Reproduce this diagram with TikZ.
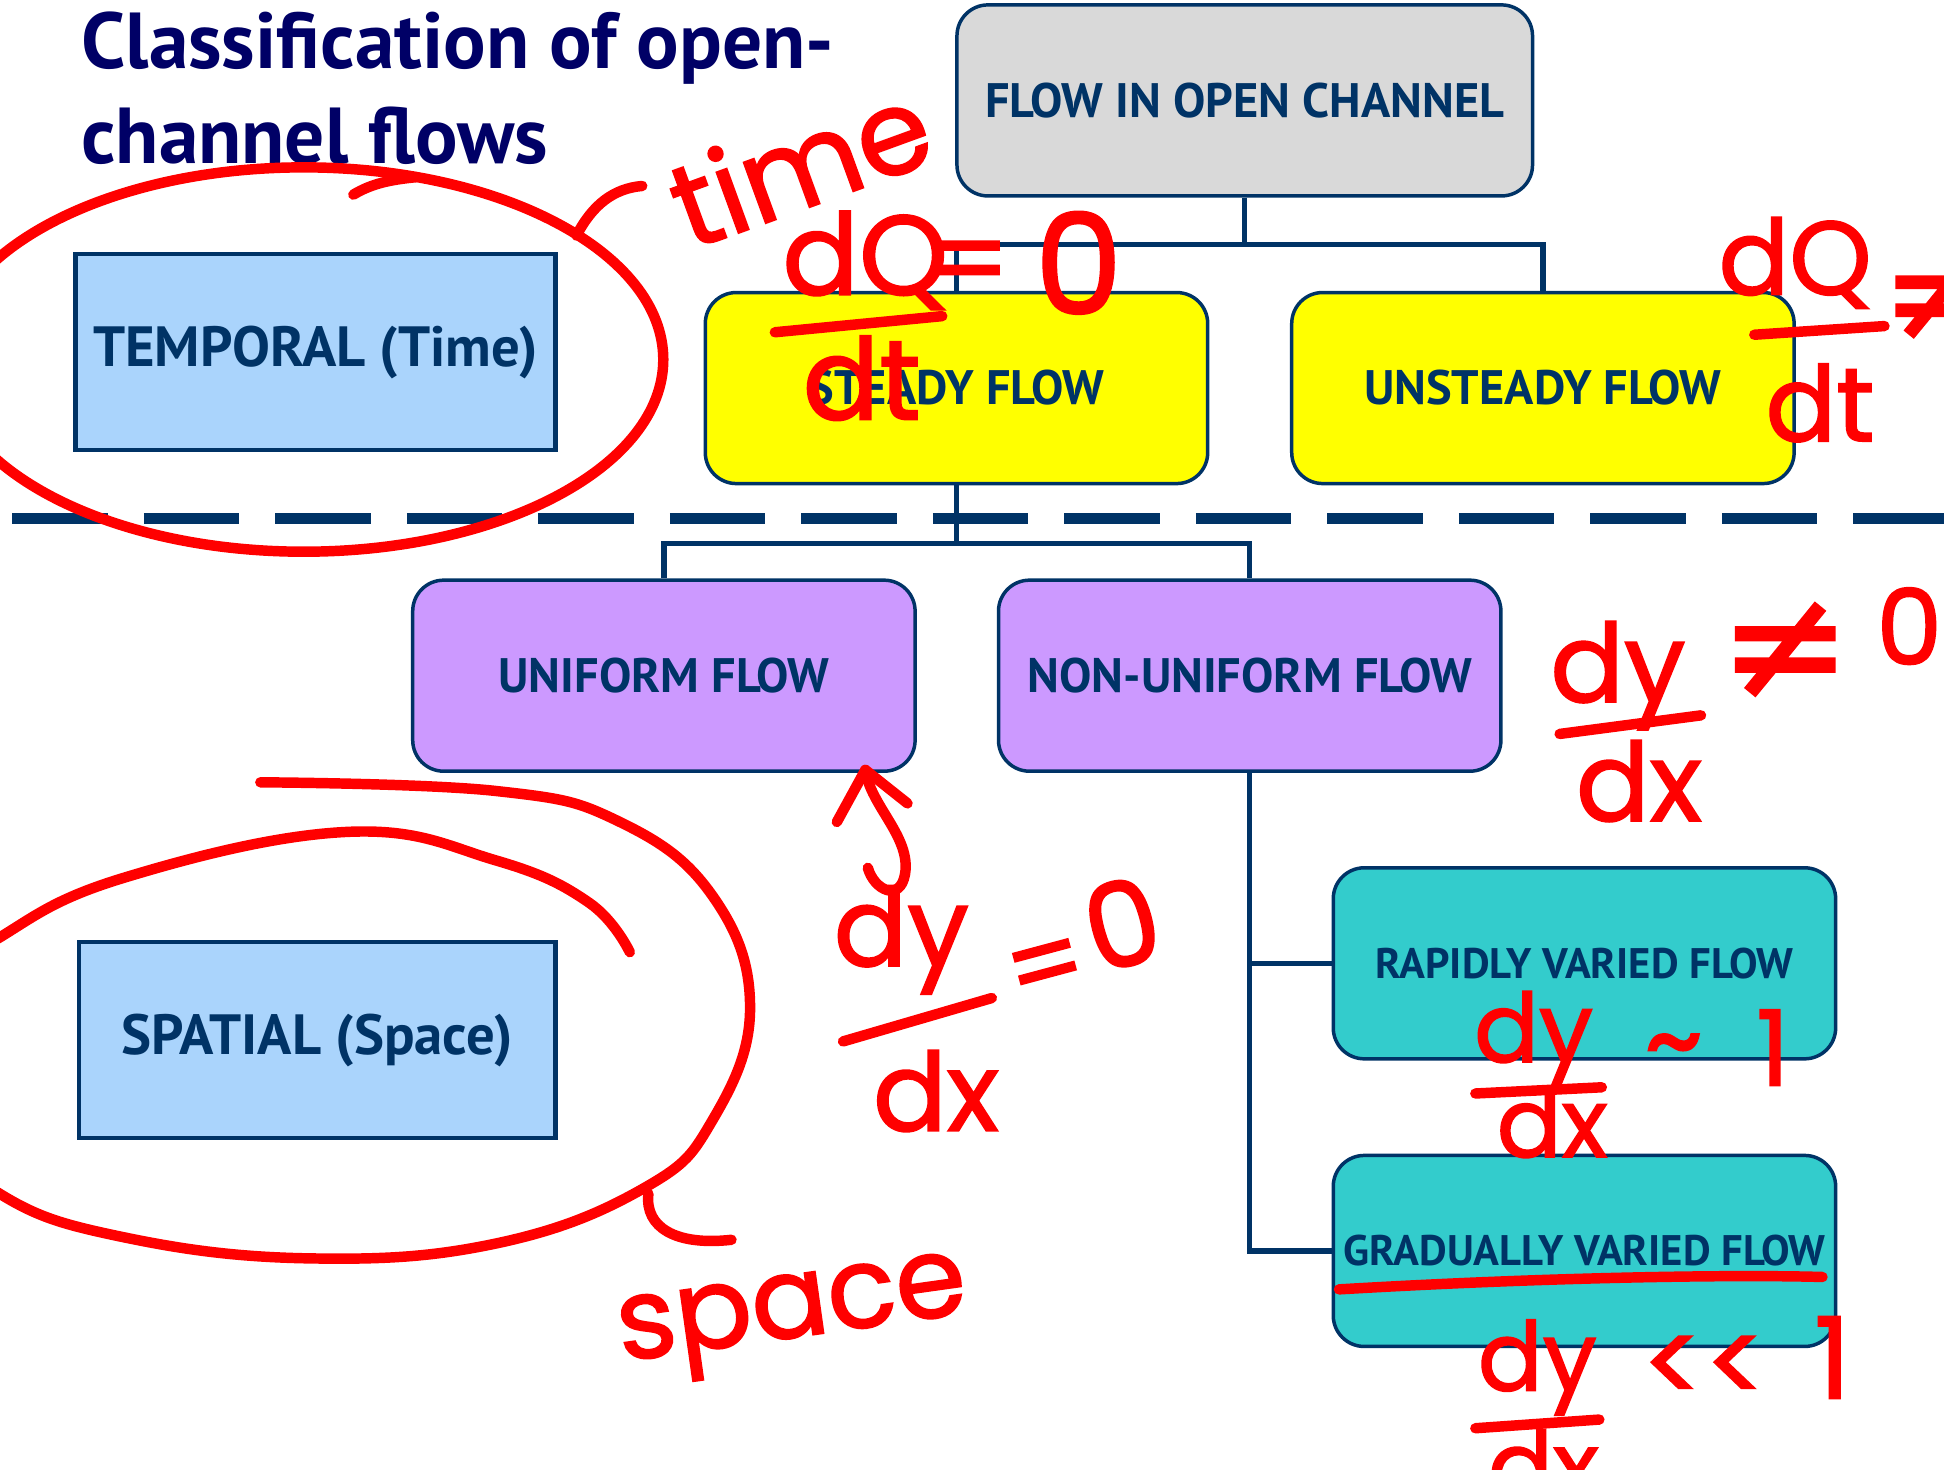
\documentclass[tikz,border=0pt]{standalone}
\usepackage{fontspec}
\setmainfont{PT Sans}
\newfontfamily\hand{Poppins}[FakeBold=1.6]
\newfontfamily\sym{DejaVu Sans}[FakeBold=1.6]
\usetikzlibrary{calc}
\definecolor{navy}{HTML}{003366}
\definecolor{titleblue}{HTML}{000066}
\definecolor{boxgray}{HTML}{D9D9D9}
\definecolor{boxyellow}{HTML}{FFFF00}
\definecolor{boxpurple}{HTML}{CC99FF}
\definecolor{boxteal}{HTML}{33CCCC}
\definecolor{boxblue}{HTML}{AAD4FC}
\definecolor{ink}{HTML}{FF0000}
\begin{document}
\begin{tikzpicture}[x=0.01cm,y=-0.01cm,
  rbox/.style={draw=navy, line width=0.8pt, rounded corners=0.25cm,
    minimum width=4.05cm, minimum height=1.54cm, text=navy, inner sep=0,
    font=\bfseries\fontsize{11.1}{13}\selectfont},
  sbox/.style={draw=navy, line width=1pt, fill=boxblue, minimum width=3.87cm,
    minimum height=1.58cm, text=navy, inner sep=0,
    font=\bfseries\fontsize{13}{15}\selectfont},
  conn/.style={draw=navy, line width=1.2pt},
  ttl/.style={text=titleblue, inner sep=0, anchor=base west,
    font=\bfseries\fontsize{18.2}{21}\selectfont},
  redline/.style={draw=ink, line width=2.4pt, line cap=round, line join=round},
  hw/.style={text=ink, inner sep=0, font=\hand\fontsize{#1}{#1}\selectfont},
  hw/.default=24,
  hs/.style={text=ink, inner sep=0, font=\sym\fontsize{#1}{#1}\selectfont},
  hs/.default=30]
\useasboundingbox (0,0) rectangle (1568,1185);
\fill[white] (0,0) rectangle (1568,1185);
\clip (0,0) rectangle (1568,1185);

% title
\node[ttl] (title1) at (65,55) {Classification of open-};
\node[ttl] (title2) at (65,132) {channel flows};

% dashed separator
\draw[navy, line width=2.6pt, dash pattern=on 0.77cm off 0.29cm] (10,418) -- (1568,418);

% boxes
\node[rbox, fill=boxgray, minimum width=4.64cm] (top) at (1004,81) {FLOW IN OPEN CHANNEL};
\node[rbox, fill=boxyellow] (steady) at (771.5,313) {STEADY FLOW};
\node[rbox, fill=boxyellow] (unsteady) at (1244.5,313) {UNSTEADY FLOW};
\node[rbox, fill=boxpurple] (uniform) at (535.5,545) {UNIFORM FLOW};
\node[rbox, fill=boxpurple] (nonuniform) at (1008,545) {NON-UNIFORM FLOW};
\node[rbox, fill=boxteal, font=\bfseries\fontsize{9.8}{12}\selectfont] (rvf) at (1278,777) {RAPIDLY VARIED FLOW};
\node[rbox, fill=boxteal, font=\bfseries\fontsize{9.8}{12}\selectfont] (gvf) at (1278,1009) {GRADUALLY VARIED FLOW};
\node[sbox] (temporal) at (254.5,284) {TEMPORAL (Time)};
\node[sbox, minimum width=3.84cm] (spatial) at (256,839) {SPATIAL (Space)};

% connectors
\coordinate (j1) at ($(top.south)+(0,38)$);
\coordinate (j2) at ($(steady.south)+(0,47)$);
\draw[conn] (top.south) -- (j1);
\draw[conn] (steady.north) |- (j1) -| (unsteady.north);
\draw[conn] (steady.south) -- (j2);
\draw[conn] (uniform.north) |- (j2) -| (nonuniform.north);
\draw[conn] (nonuniform.south) |- (rvf.west);
\draw[conn] (nonuniform.south) |- (gvf.west);

% ---- red annotations ----
% temporal loop
\draw[redline] (245,290) ellipse [x radius=290, y radius=155];
\draw[redline] (285,157) .. controls (300,148) and (315,145) .. (335,143);
\draw[redline] (465,190) .. controls (478,165) and (495,152) .. (518,150);
\node[hw=27, rotate=20] (time) at (645,132) {time};

% spatial spiral
\draw[redline] plot[smooth, tension=0.7] coordinates {(210,631) (400,638) (500,663) (575,723) (605,813) (575,903) (520,958) (400,1003) (250,1015) (100,998) (0,963) (-60,900) (-50,800) (0,756) (100,708) (280,671) (400,694) (475,728) (508,768)};
\draw[redline] (523,963) .. controls (520,990) and (545,1005) .. (590,1000);
\node[hw=26, rotate=8] (space) at (640,1065) {space};

% steady: dQ/dt = 0
\node[hw=26] (sn) at (698,210) {dQ};
\node[hw=26] (sd) at (695,305) {dt};
\coordinate (sb1) at (625,268); \coordinate (sb2) at (760,255);
\draw[redline] (sb1) -- (sb2);
\node[hw=26] (seq) at (782,218) {=};
\node[hw=32] (s0) at (870,212) {0};

% unsteady: dQ/dt != 
\node[hw=24] (un) at (1448,212) {dQ};
\node[hw=24] (ud) at (1468,325) {dt};
\coordinate (ub1) at (1415,270); \coordinate (ub2) at (1520,263);
\draw[redline] (ub1) -- (ub2);
\node[hs=32] (une) at (1565,240) {≠};

% uniform: dy/dx = 0
\draw[redline] (675,663) -- (698,621) -- (732,648);
\draw[redline] (698,621) .. controls (702,650) and (735,675) .. (730,705) .. controls (726,728) and (705,718) .. (700,700);
\node[hw=25] (yn) at (727,758) {dy};
\node[hw=25] (yd) at (755,880) {dx};
\coordinate (yb1) at (680,840); \coordinate (yb2) at (800,805);
\draw[redline] (yb1) -- (yb2);
\node[hw=25, rotate=15] (yeq) at (845,785) {=};
\node[hw=27, rotate=15] (y0) at (905,745) {0};

% non-uniform: dy/dx != 0
\node[hw=25] (nn) at (1305,545) {dy};
\node[hw=25] (nd) at (1322,630) {dx};
\coordinate (nb1) at (1258,592); \coordinate (nb2) at (1372,577);
\draw[redline] (nb1) -- (nb2);
\node[hs=36] (nne) at (1440,525) {≠};
\node[hw=24] (n0) at (1540,505) {0};

% rapidly varied: dy/dx ~ 1
\node[hw=22] (rn) at (1237,838) {dy};
\node[hw=22] (rd) at (1252,905) {dx};
\coordinate (rb1) at (1190,882); \coordinate (rb2) at (1292,877);
\draw[redline] (rb1) -- (rb2);
\node[hw=26] (rt) at (1350,852) {\textasciitilde};
\node[hw=24] (r1) at (1430,845) {1};

% gradually varied: dy/dx << 1
\draw[redline] (1080,1040) .. controls (1250,1030) and (1400,1028) .. (1470,1030);
\node[hw=22] (gn) at (1240,1103) {dy};
\node[hw=22] (gd) at (1245,1182) {dx};
\coordinate (gb1) at (1190,1152); \coordinate (gb2) at (1290,1145);
\draw[redline] (gb1) -- (gb2);
\node[hw=26] (glt) at (1375,1105) {<<};
\node[hw=26] (g1) at (1478,1095) {1};
\end{tikzpicture}
\end{document}
